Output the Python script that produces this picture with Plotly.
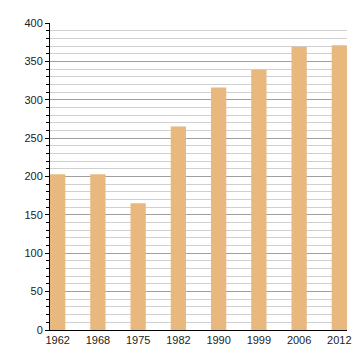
import plotly.graph_objects as go

years = ["1962", "1968", "1975", "1982", "1990", "1999", "2006", "2012"]
population = [203, 203, 165, 265, 316, 339, 369, 371]

fig = go.Figure(go.Bar(
    x=years, y=population,
    marker=dict(color="#e8b87e", line=dict(width=0)),
    width=0.38,
))

fig.update_layout(
    width=352, height=352,
    margin=dict(l=42, r=9, t=13, b=30),
    paper_bgcolor="white", plot_bgcolor="white",
    showlegend=False,
    font=dict(family="Liberation Sans, Arial, sans-serif", size=11, color="#222"),
)
fig.update_xaxes(
    type="category", range=[-0.19, 7.19],
    showline=True, linecolor="black", linewidth=1,
    ticks="", showgrid=False, tickfont=dict(size=11),
    ticklabelstandoff=0,
)
fig.update_yaxes(
    range=[0, 400], dtick=50, tick0=0,
    showline=True, linecolor="black", linewidth=1,
    ticks="outside", ticklen=4, tickcolor="black",
    showgrid=True, gridcolor="#a0a0a0", gridwidth=1,
    zeroline=False,
    minor=dict(dtick=10, showgrid=True, gridcolor="#d0d0d0", gridwidth=1,
               ticks="outside", ticklen=3, tickcolor="black"),
    tickfont=dict(size=11),
)

fig.write_html("out.html")
